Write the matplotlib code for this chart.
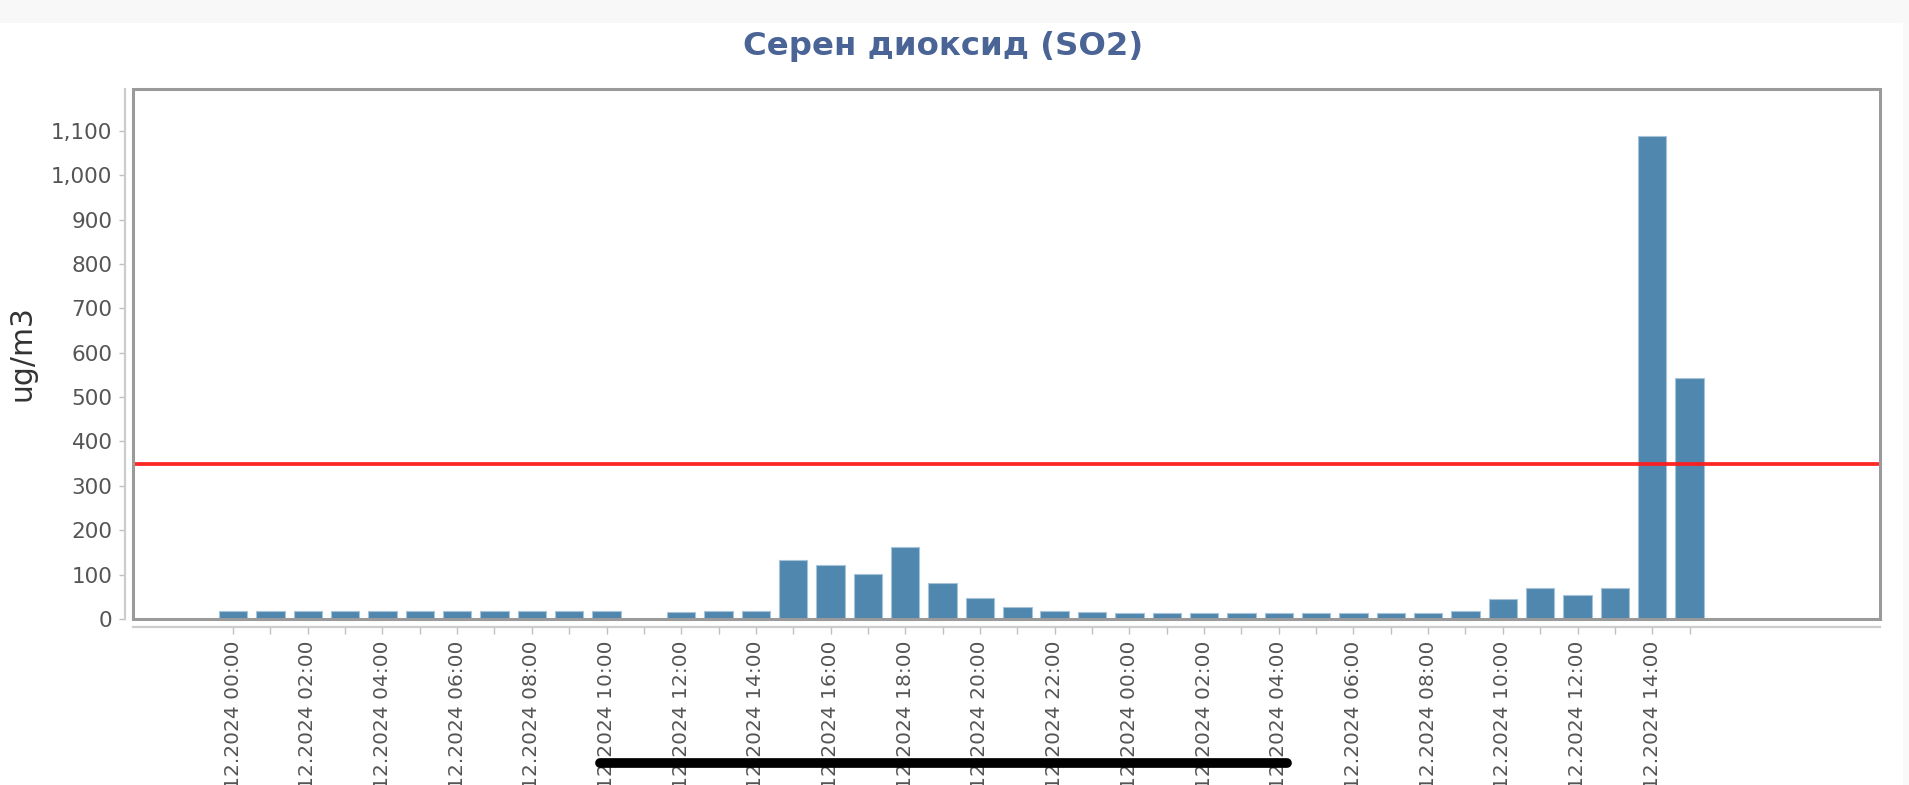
import numpy as np
import matplotlib
matplotlib.use('Agg')
import matplotlib.pyplot as plt
from matplotlib.patches import Rectangle
from matplotlib.lines import Line2D
from matplotlib.ticker import FuncFormatter

# hourly timestamps, day 1 00:00 .. day 2 15:00
day_1 = '18.12.2024'
day_2 = '19.12.2024'
hour_labels = [day_1 + ' %02d:00' % h for h in range(24)] + [day_2 + ' %02d:00' % h for h in range(16)]

# SO2, ug/m3 (11:00 of day 1 missing)
so2_values = [18, 18, 18, 17, 17, 17, 17, 17, 17, 17, 17, np.nan,
              16, 17, 19, 133, 122, 101, 163, 80, 47, 26, 18, 15,
              14, 14, 14, 14, 13, 13, 13, 13, 14, 19, 46, 69, 54, 69, 1088, 543]
limit_value = 350
y_ticks = list(range(0, 1101, 100))

title = 'Серен диоксид (SO2)'
y_title = 'ug/m3'

W, H = 1909, 785
fig = plt.figure(figsize=(W / 100, H / 100), dpi=100)
fig.patch.set_facecolor('white')

# light grey page strips (top and right)
fig.patches.append(Rectangle((0, 1 - 23 / H), 1, 23 / H, transform=fig.transFigure,
                             facecolor='#f8f8f8', edgecolor='none', zorder=0))
fig.patches.append(Rectangle((1903 / W, 0), 1 - 1903 / W, 1 - 23 / H, transform=fig.transFigure,
                             facecolor='#f9f9f9', edgecolor='none', zorder=0))

ax = fig.add_axes([133 / W, 1 - 619 / H, (1880 - 133) / W, (619 - 89) / H])

x = np.arange(len(so2_values))
ax.bar(x, so2_values, width=0.76, color='#4f87ae', edgecolor='#a8c3d8', linewidth=0.8, zorder=2)
ax.axhline(limit_value, color='#ff1a1a', linewidth=2.7, alpha=0.95, zorder=3)

ax.set_xlim(-2.68, 44.1)
ax.set_ylim(0, 1194)

# frame around plot area
ax.add_patch(Rectangle((0, 0), 1, 1, transform=ax.transAxes, fill=False,
                       edgecolor='#9a9a9a', linewidth=2.2, zorder=5, clip_on=False))

# offset axis lines
for side in ['top', 'right']:
    ax.spines[side].set_visible(False)
for side in ['left', 'bottom']:
    ax.spines[side].set_position(('outward', 5.8))
    ax.spines[side].set_color('#cccccc')
    ax.spines[side].set_linewidth(1.6)

ax.set_yticks(y_ticks)
ax.yaxis.set_major_formatter(FuncFormatter(lambda v, p: '{:,.0f}'.format(v)))
ax.tick_params(axis='y', length=4, width=1, color='#c0c0c0', labelsize=15.5,
               labelcolor='#555555', pad=5)

ax.set_xticks(x[::2])
ax.set_xticklabels(hour_labels[::2], rotation=90)
ax.set_xticks(x[1::2], minor=True)
ax.tick_params(axis='x', which='both', length=5, width=1, color='#c0c0c0',
               labelsize=14.5, labelcolor='#555555', pad=5)

fig.text(943 / W, 1 - 47 / H, title, ha='center', va='center', fontsize=23.3,
         fontweight='bold', color='#4a6496')
fig.text(22 / W, 1 - 353 / H, y_title, ha='center', va='center', rotation=90,
         fontsize=21.5, color='#333333')

# black marker stroke across the date labels
fig.add_artist(Line2D([600 / W, 1287 / W], [1 - 763 / H, 1 - 763 / H], transform=fig.transFigure,
                      color='black', linewidth=7, solid_capstyle='round', zorder=10))

fig.savefig('out.png', dpi=100)
